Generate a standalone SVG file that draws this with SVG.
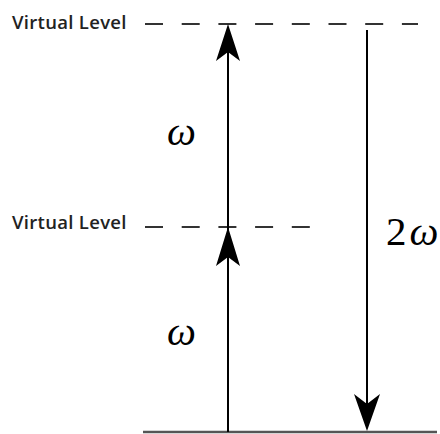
<svg xmlns="http://www.w3.org/2000/svg" width="440" height="434" viewBox="0 0 440 434">
  <style>
    .level { stroke: #333; stroke-width: 2; stroke-dasharray: 18 18.7; fill: none; }
    .ground { stroke: #555; stroke-width: 2.5; fill: none; }
    .shaft { stroke: #000; stroke-width: 2; fill: none; }
    .head { fill: #000; }
    .lbl { font-family: "Open Sans", "Liberation Sans", sans-serif; font-weight: 600; font-size: 18.5px; letter-spacing: 0.3px; fill: #222; }
    .sym { font-family: "Liberation Serif", "DejaVu Serif", serif; font-size: 41px; fill: #000; }
  </style>
  <rect width="440" height="434" fill="#fff"/>

  <g id="virtual-level-top">
    <text class="lbl" x="12" y="29">Virtual Level</text>
    <line class="level" x1="145" y1="24" x2="418" y2="24"/>
  </g>
  <g id="virtual-level-mid">
    <text class="lbl" x="12" y="229">Virtual Level</text>
    <line class="level" x1="145" y1="227" x2="310" y2="227"/>
  </g>
  <g id="ground-level">
    <line class="ground" x1="143" y1="432" x2="437" y2="432"/>
  </g>

  <g id="connectors">
    <!-- absorption: two stacked photons -->
    <line class="shaft" x1="228" y1="432" x2="228" y2="40"/>
    <path class="head" d="M228 24 L240 61 L228 52 L216 61 Z"/>
    <path class="head" d="M228 227 L240 266 L228 257 L216 266 Z"/>
    <!-- emission at twice the frequency -->
    <line class="shaft" x1="367" y1="30" x2="367" y2="415"/>
    <path class="head" d="M367 431 L380 394 L367 404 L354 394 Z"/>
  </g>

  <g id="labels">
    <text class="sym" x="167" y="145" font-style="italic">ω</text>
    <text class="sym" x="167" y="345" font-style="italic">ω</text>
    <text class="sym" x="386" y="245" font-size="39">2<tspan dx="3" font-style="italic">ω</tspan></text>
  </g>
</svg>
